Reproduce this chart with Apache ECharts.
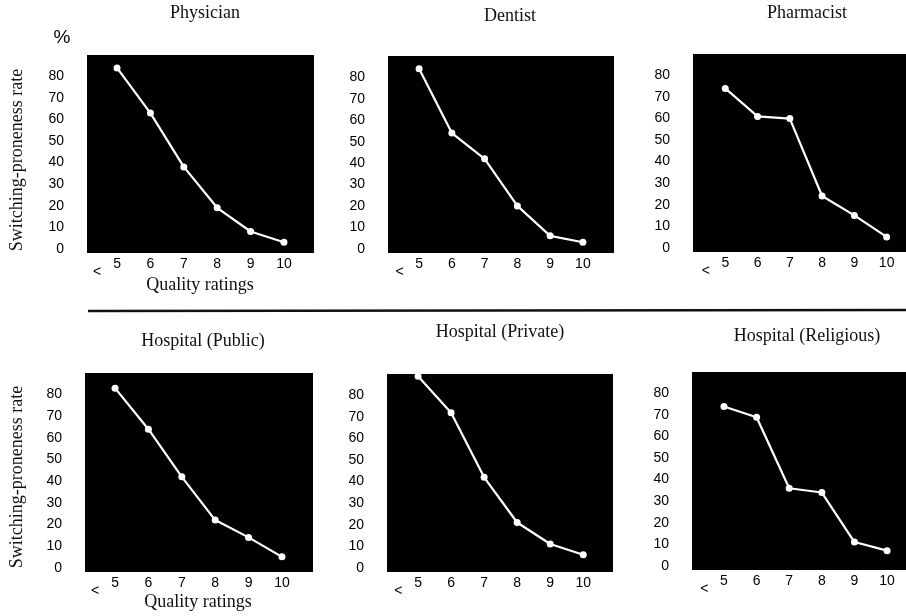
<!DOCTYPE html>
<html style="height:100%">
<head>
    <meta charset="utf-8">
</head>
<body style="height:100%; margin: 0; background: #fff">
<div id="container" style="width: 906px; height: 616px"></div>
<script src="https://cdn.jsdelivr.net/npm/echarts@6/dist/echarts.min.js"></script>
<script type="text/javascript">
// quality ratings on the x axis, "<" sits just left of 5
var ratings = [5, 6, 7, 8, 9, 10];
var lessThanAt = 4.4;
var rateTicks = [0, 10, 20, 30, 40, 50, 60, 70, 80];

var panelNames = ['Physician', 'Dentist', 'Pharmacist',
    'Hospital (Public)', 'Hospital (Private)', 'Hospital (Religious)'];

// switching-proneness rate (%) per rating
var physician = [84, 63, 38, 19, 8, 3];
var dentist = [84, 54, 42, 20, 6, 3];
var pharmacist = [74, 61, 60, 24, 15, 5];
var hospPublic = [83, 64, 42, 22, 14, 5];
var hospPrivate = [89, 72, 42, 21, 11, 6];
var hospReligious = [74, 69, 36, 34, 11, 7];
var panelValues = [physician, dentist, pharmacist, hospPublic, hospPrivate, hospReligious];

// black plot boxes as they sit on the page
var boxes = [
    {left: 87, top: 55, width: 227, height: 198, xMin: 4.1, xMax: 10.9},
    {left: 388, top: 56, width: 226, height: 197, xMin: 4.05, xMax: 10.95},
    {left: 693, top: 54, width: 213, height: 198, xMin: 4.0, xMax: 10.6},
    {left: 85, top: 373, width: 228, height: 199, xMin: 4.1, xMax: 10.93},
    {left: 387, top: 374, width: 226, height: 198, xMin: 4.06, xMax: 10.9},
    {left: 692, top: 372, width: 214, height: 198, xMin: 4.02, xMax: 10.58}
];
var titlePos = [[205, 13], [510, 16], [807, 13], [203, 341], [500, 332], [807, 336]];

var sans = 'Liberation Sans';
var serif = 'Liberation Serif';

var dom = document.getElementById('container');
var myChart = echarts.init(dom);

var grids = [], xAxes = [], yAxes = [], series = [], graphics = [];

boxes.forEach(function (b, i) {
    grids.push({
        left: b.left, top: b.top, width: b.width, height: b.height,
        show: true, backgroundColor: '#000', borderWidth: 0
    });
    xAxes.push({
        gridIndex: i, type: 'value', min: b.xMin, max: b.xMax,
        axisLine: {show: false}, axisTick: {show: false}, splitLine: {show: false},
        axisLabel: {
            customValues: [lessThanAt].concat(ratings),
            margin: 4,
            color: '#000', fontFamily: sans, fontSize: 14,
            formatter: function (v) { return v < 5 ? '{lt|<}' : String(v); },
            rich: {lt: {fontSize: 14, fontFamily: sans, color: '#000', padding: [8, 0, 0, 0]}}
        }
    });
    yAxes.push({
        gridIndex: i, type: 'value', min: -2, max: 90,
        axisLine: {show: false}, axisTick: {show: false}, splitLine: {show: false},
        axisLabel: {
            customValues: rateTicks, margin: 23,
            color: '#000', fontFamily: sans, fontSize: 14
        }
    });
    series.push({
        type: 'line', xAxisIndex: i, yAxisIndex: i,
        data: ratings.map(function (r, k) { return [r, panelValues[i][k]]; }),
        symbol: 'circle', symbolSize: 7, showSymbol: true,
        lineStyle: {color: '#fff', width: 2.2},
        itemStyle: {color: '#fff'},
        animation: false
    });
    graphics.push({
        type: 'text', x: titlePos[i][0], y: titlePos[i][1],
        style: {text: panelNames[i], fill: '#111', font: '18px "' + serif + '"',
            align: 'center', verticalAlign: 'middle'}
    });
});

// shared labels
graphics.push(
    {type: 'text', x: 62, y: 38,
        style: {text: '%', fill: '#000', font: '19px "' + sans + '"', align: 'center', verticalAlign: 'middle'}},
    {type: 'text', x: 17, y: 160, rotation: Math.PI / 2,
        style: {text: 'Switching-proneness rate', fill: '#111', font: '18px "' + serif + '"', align: 'center', verticalAlign: 'middle'}},
    {type: 'text', x: 17, y: 477, rotation: Math.PI / 2,
        style: {text: 'Switching-proneness rate', fill: '#111', font: '18px "' + serif + '"', align: 'center', verticalAlign: 'middle'}},
    {type: 'text', x: 200, y: 285,
        style: {text: 'Quality ratings', fill: '#111', font: '18px "' + serif + '"', align: 'center', verticalAlign: 'middle'}},
    {type: 'text', x: 198, y: 602,
        style: {text: 'Quality ratings', fill: '#111', font: '18px "' + serif + '"', align: 'center', verticalAlign: 'middle'}},
    {type: 'line', shape: {x1: 88, y1: 311, x2: 906, y2: 310},
        style: {stroke: '#111', lineWidth: 2.5}}
);

myChart.setOption({
    backgroundColor: '#fff',
    animation: false,
    grid: grids,
    xAxis: xAxes,
    yAxis: yAxes,
    series: series,
    graphic: graphics
});
</script>
</body>
</html>
